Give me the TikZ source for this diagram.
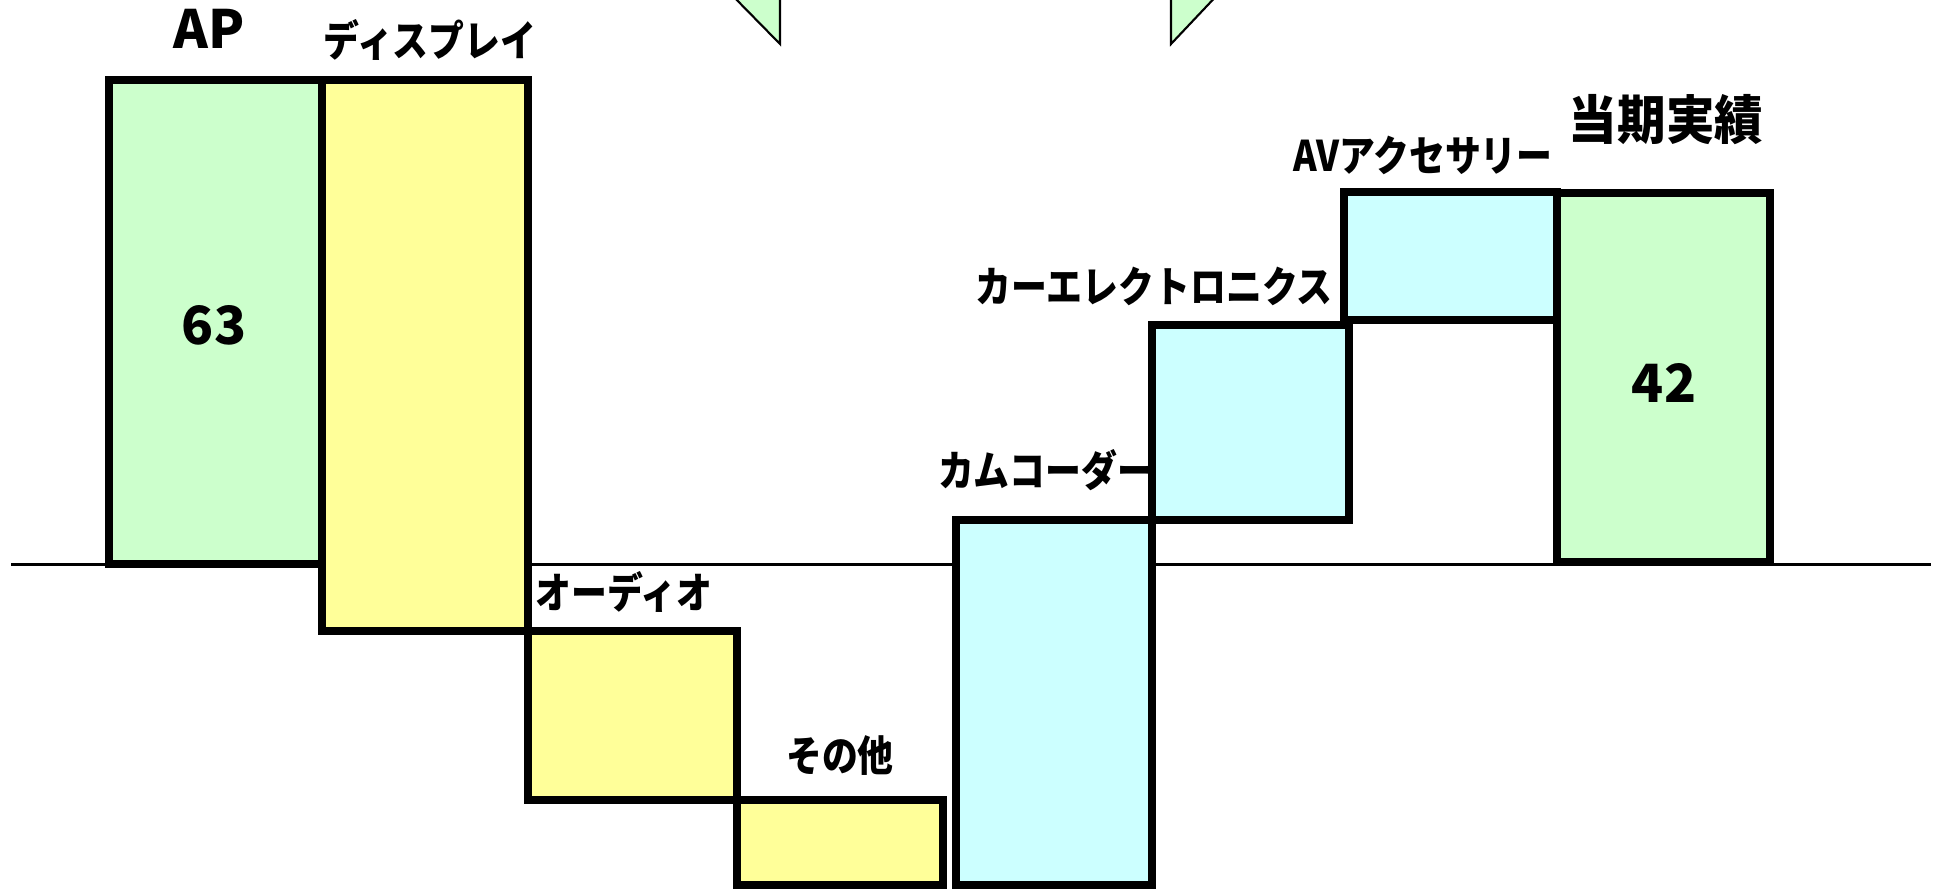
\documentclass[tikz,border=0pt]{standalone}
\usepackage{fontspec}
\newfontfamily\jpfont{Noto Sans CJK JP}[FakeStretch=0.85]
\newfontfamily\headfont{Noto Sans CJK JP}[FakeStretch=0.92]
\newfontfamily\numfont{Noto Sans CJK JP}
\definecolor{totalgreen}{HTML}{CCFFCC}
\definecolor{downyellow}{HTML}{FFFF99}
\definecolor{upcyan}{HTML}{CCFFFF}

\begin{document}
\begin{tikzpicture}[x=0.01cm,y=-0.01cm,
    bar/.style={draw=black,line width=2.3pt},
    lbl/.style={font=\jpfont\bfseries\fontsize{12pt}{14pt}\selectfont,inner sep=0pt},
    big/.style={font=\numfont\bfseries\fontsize{15pt}{18pt}\selectfont,inner sep=0pt}]
  \useasboundingbox (0,0) rectangle (1937,888);
  \clip (0,0) rectangle (1937,888);
  \draw[line width=0.85pt] (11,564)--(1931,564);
  % arrow tips cut off at the top
  \filldraw[fill=totalgreen,line width=0.6pt] (727,-10)--(780,-10)--(780,44)--cycle;
  \filldraw[fill=totalgreen,line width=0.6pt] (1171,-10)--(1222,-10)--(1171,44)--cycle;
  % bars
  \filldraw[bar,fill=totalgreen] (109,80) rectangle (322,564);
  \filldraw[bar,fill=downyellow] (322,80) rectangle (528,631);
  \filldraw[bar,fill=downyellow] (528,631) rectangle (737,800);
  \filldraw[bar,fill=downyellow] (737,800) rectangle (943,885);
  \filldraw[bar,fill=upcyan] (956,520) rectangle (1152,885);
  \filldraw[bar,fill=upcyan] (1152,325) rectangle (1349,520);
  \filldraw[bar,fill=upcyan] (1344,192) rectangle (1557,320);
  \filldraw[bar,fill=totalgreen] (1557,193) rectangle (1770,562);
  % labels
  \node[big] (ap) at (209,29) {AP};
  \node[big] (apval) at (214,325) {63};
  \node[lbl] (disp) at (430,40) {ディスプレイ};
  \node[lbl] (audio) at (624,592) {オーディオ};
  \node[lbl] (other) at (840,756) {その他};
  \node[lbl,anchor=east] (cam) at (1154,470) {カムコーダー};
  \node[lbl] (car) at (1154,286) {カーエレクトロニクス};
  \node[lbl] (avacc) at (1423,155) {AVアクセサリー};
  \node[big,font=\headfont\bfseries\fontsize{15pt}{18pt}\selectfont] (result) at (1666,120) {当期実績};
  \node[big] (resval) at (1664,383) {42};
\end{tikzpicture}
\end{document}
